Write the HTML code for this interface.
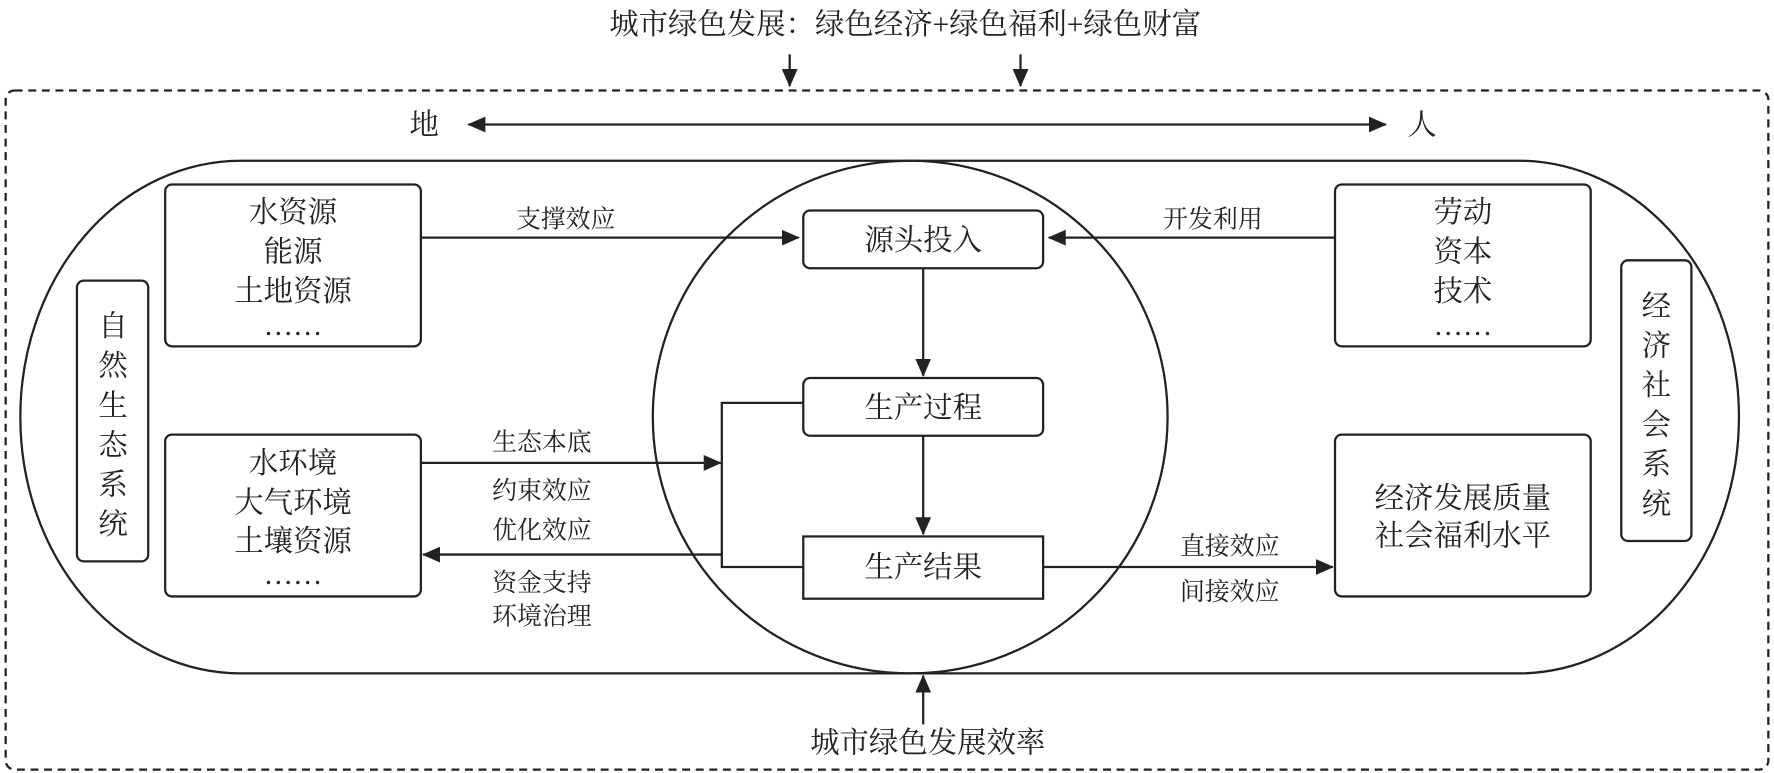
<!DOCTYPE html>
<html><head><meta charset="utf-8"><style>
html,body{margin:0;padding:0;background:#fff;}
svg{display:block;}
text{font-family:"Liberation Serif","Noto Serif CJK SC",serif;fill:#222;}
</style></head><body>
<svg width="1774" height="773" viewBox="0 0 1568 683" preserveAspectRatio="none" xmlns="http://www.w3.org/2000/svg">
<defs>
<marker id="a" markerWidth="10" markerHeight="10" refX="9" refY="5" orient="auto" markerUnits="userSpaceOnUse"><path d="M0,0 L10,5 L0,10 z" fill="#222"/></marker>
<marker id="b" markerWidth="16" markerHeight="14" refX="15" refY="7" orient="auto" markerUnits="userSpaceOnUse"><path d="M0,0 L16,7 L0,14 z" fill="#222"/></marker>
<marker id="bs" markerWidth="16" markerHeight="14" refX="1" refY="7" orient="auto" markerUnits="userSpaceOnUse"><path d="M16,0 L0,7 L16,14 z" fill="#222"/></marker>
</defs>
<g stroke="#222" stroke-width="2" fill="none">
<text x="800" y="30" font-size="26" text-anchor="middle" stroke="none">城市绿色发展：绿色经济+绿色福利+绿色财富</text>
<line x1="698" y1="48" x2="698" y2="76" marker-end="url(#b)"/>
<line x1="902" y1="48" x2="902" y2="76" marker-end="url(#b)"/>
<rect x="5" y="80" width="1558" height="600" rx="8" stroke-dasharray="7,5"/>
<line x1="414" y1="110" x2="1225" y2="110" marker-start="url(#bs)" marker-end="url(#b)"/>
<rect x="18" y="142" width="1519" height="453" rx="195" ry="226"/>
<ellipse cx="804.5" cy="368.5" rx="227.5" ry="226.5"/>
<rect x="146" y="163" width="226" height="143" rx="6"/>
<rect x="146" y="384" width="226" height="143" rx="6"/>
<rect x="68" y="248" width="63" height="248" rx="6"/>
<rect x="1180" y="163" width="226" height="143" rx="6"/>
<rect x="1180" y="384" width="226" height="143" rx="6"/>
<rect x="1433" y="230" width="62" height="248" rx="6"/>
<rect x="710" y="186" width="212" height="51" rx="6"/>
<rect x="710" y="334" width="212" height="51" rx="6"/>
<rect x="710" y="474" width="212" height="55"/>
<line x1="372" y1="210" x2="706" y2="210" marker-end="url(#b)"/>
<line x1="1180" y1="210" x2="927" y2="210" marker-end="url(#b)"/>
<line x1="816" y1="237" x2="816" y2="332" marker-end="url(#b)"/>
<line x1="816" y1="385" x2="816" y2="472" marker-end="url(#b)"/>
<polyline points="710,356 638,356 638,501 710,501"/>
<line x1="372" y1="409" x2="637" y2="409" marker-end="url(#b)"/>
<line x1="638" y1="490" x2="374" y2="490" marker-end="url(#b)"/>
<line x1="922" y1="501" x2="1178" y2="501" marker-end="url(#b)"/>
<line x1="816" y1="640" x2="816" y2="597" marker-end="url(#b)"/>
</g>
<g font-size="26" text-anchor="middle">
<text x="375" y="119">地</text>
<text x="1257" y="119">人</text>
<text x="259" y="196">水资源</text>
<text x="259" y="231">能源</text>
<text x="259" y="266">土地资源</text>
<text x="259" y="296">……</text>
<text x="259" y="418">水环境</text>
<text x="259" y="453">大气环境</text>
<text x="259" y="487">土壤资源</text>
<text x="259" y="516">……</text>
<text x="1293" y="196">劳动</text>
<text x="1293" y="231">资本</text>
<text x="1293" y="266">技术</text>
<text x="1293" y="296">……</text>
<text x="1293" y="449">经济发展质量</text>
<text x="1293" y="482">社会福利水平</text>
<text x="816" y="221">源头投入</text>
<text x="816" y="369">生产过程</text>
<text x="816" y="510">生产结果</text>
<text x="820" y="665">城市绿色发展效率</text>
<text x="100" y="297">自</text><text x="100" y="332">然</text><text x="100" y="367">生</text><text x="100" y="402">态</text><text x="100" y="437">系</text><text x="100" y="472">统</text>
<text x="1464" y="279">经</text><text x="1464" y="314">济</text><text x="1464" y="349">社</text><text x="1464" y="384">会</text><text x="1464" y="419">系</text><text x="1464" y="454">统</text>
</g>
<g font-size="22" text-anchor="middle">
<text x="500" y="201">支撑效应</text>
<text x="1072" y="201">开发利用</text>
<text x="479" y="398">生态本底</text>
<text x="479" y="441">约束效应</text>
<text x="479" y="476">优化效应</text>
<text x="479" y="522">资金支持</text>
<text x="479" y="552">环境治理</text>
<text x="1087" y="490">直接效应</text>
<text x="1087" y="530">间接效应</text>
</g>
</svg>
</body></html>
